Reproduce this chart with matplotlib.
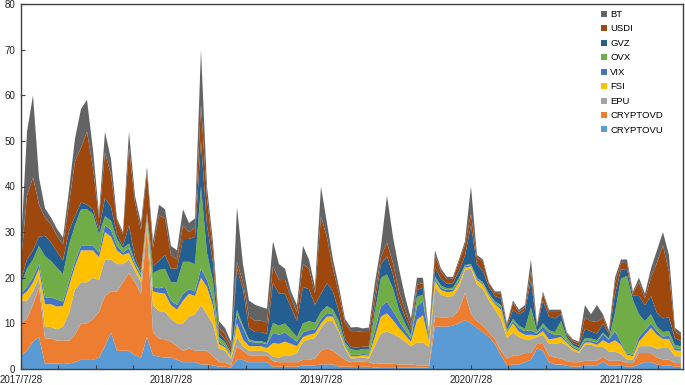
import numpy as np
import pandas as pd
import matplotlib
matplotlib.use('Agg')
import matplotlib.pyplot as plt
from matplotlib.patches import Patch

plt.rcParams['font.family'] = ['Liberation Sans', 'DejaVu Sans']

dates = pd.date_range('2017-07-28', '2021-12-21', periods=111)

CRYPTOVU = [3, 4, 6, 7, 1.2, 1.2, 1.2, 1.3, 1.2, 1.5,
            2, 2, 2, 2.5, 5, 8, 4, 4, 4, 3,
            2.5, 7, 3, 2.7, 2.5, 2.5, 2, 1.5, 1.5, 1.5,
            1, 1, 0.8, 0.5, 0.5, 0.3, 2, 2, 1.5, 1.5,
            1.5, 1.5, 0.5, 0.5, 0.5, 0.5, 0.5, 0.8, 0.8, 0.8,
            1, 1, 1, 0.5, 0.5, 0.5, 0.4, 0.5, 0.5, 0.3,
            0.4, 0.4, 0.4, 0.3, 0.3, 0.3, 0.3, 0.3, 0.3, 9.3,
            9.3, 9.3, 9.5, 10, 10.7, 10, 9, 8, 7, 5.5,
            3, 0.8, 1, 1, 1.5, 2, 4.5, 4, 1.5, 1,
            1, 0.7, 0.5, 0.5, 0.8, 0.8, 0.8, 1.6, 0.8, 0.8,
            0.8, 0.5, 0.5, 1, 1.5, 1.5, 1, 0.8, 0.8, 0.5, 0.5]
CRYPTOVD = [7, 7, 8, 11, 5.5, 5.5, 5, 5, 5, 6,
            8, 8, 9, 10, 11, 9, 13, 15, 17, 16,
            14, 24, 5, 4, 4, 3.5, 3, 2.5, 3, 2.5,
            3, 3, 2, 1, 1, 0.5, 3, 2, 1.5, 1.5,
            1.5, 1.5, 1.2, 1, 1, 1, 1, 1.2, 1.2, 1.5,
            3, 3.5, 3, 2.5, 1.5, 1, 1.2, 1.1, 1, 0.8,
            0.8, 0.8, 0.8, 0.7, 0.7, 0.7, 0.5, 0.5, 0.5, 2.2,
            2, 2, 2, 3, 6, 2, 1.5, 1.5, 1, 1,
            1, 1.5, 2, 2, 2, 1.5, 1, 1.5, 1.5, 1.5,
            1.3, 1, 1, 1, 1, 1, 1, 1.1, 1, 1,
            1, 0.8, 0.8, 2.5, 2, 2, 1.5, 1.3, 1.3, 0.8, 0.8]
EPU = [5, 4, 3, 2, 2.5, 2.5, 2.5, 3, 6, 10,
       9, 9, 9, 7, 8, 7, 6, 4, 3, 2.5,
       2.5, 1.5, 6, 6, 6, 5, 5, 6, 7, 8,
       10, 8, 7, 3, 2.5, 1.5, 2, 1, 1, 1,
       1, 0.8, 1, 1, 1.5, 1.5, 2, 4, 4.5, 4.5,
       5, 6, 6.5, 5, 2.5, 0.8, 0.8, 0.9, 0.8, 4,
       6.6, 7, 6.5, 6, 5, 4, 5, 5, 4, 6.5,
       5, 4.5, 4.5, 5, 5, 10, 8, 8, 7, 6.5,
       7, 4.5, 5, 4, 3, 3, 1.5, 2, 2.5, 3,
       3.5, 3.5, 2.5, 2, 3.5, 3.5, 3, 2.2, 2, 2,
       1.5, 0.8, 0.7, 1.5, 1.5, 1.5, 2, 2.5, 2.5, 1.5, 1.5]
FSI = [1, 2, 2, 2, 5, 5, 5, 4.5, 6, 5,
       7, 7, 6, 5, 6, 5, 3, 2, 1.5, 1,
       1, 0.5, 3, 4, 4, 3, 3, 5, 5, 4,
       6, 6, 4, 1, 0.7, 0.5, 3, 1.5, 1, 1,
       1, 0.8, 3, 3, 3, 2.5, 1.5, 1, 1, 1,
       1, 1, 1, 0.5, 0.5, 0.5, 0.4, 0.5, 0.6, 2,
       3.7, 4, 3, 2, 1.5, 1, 5, 6, 1.5, 1.3,
       1, 1, 1, 1, 0.5, 0.5, 1, 1, 1, 1.2,
       2, 1.2, 2, 1.2, 1, 1, 0.4, 0.8, 1, 1.2,
       1.2, 0.5, 0.5, 0.4, 0.5, 0.5, 0.5, 1.4, 1.8, 2.5,
       2, 1, 0.8, 1, 2.5, 4, 3, 2, 2, 1.3, 1.2]
VIX = [0.5, 1, 1, 1, 1.5, 1.5, 1.5, 1, 1, 1,
       1, 1, 1, 1, 1.5, 1.5, 1, 0.5, 1, 0.5,
       0.5, 0.3, 1, 1, 1.5, 1, 1, 1.5, 1, 1,
       2, 1.5, 1.5, 0.5, 0.3, 0.2, 2, 2.5, 1, 0.8,
       0.8, 0.8, 2.2, 2, 2, 1.5, 1, 1, 1, 0.8,
       1, 0.8, 0.5, 0.5, 0.3, 0.3, 0.3, 0.3, 0.3, 1.5,
       2.2, 2.5, 2, 1.5, 1, 0.7, 3, 3, 0.5, 0.5,
       0.5, 0.5, 0.4, 0.5, 0.3, 0.3, 0.3, 0.3, 0.3, 0.3,
       0.5, 0.3, 0.5, 0.8, 0.8, 1, 0.4, 1, 1.5, 0.8,
       0.5, 0.3, 0.3, 0.3, 0.5, 0.4, 0.5, 1.4, 0.8, 2,
       0.5, 0.3, 0.3, 1, 1, 1, 0.8, 0.5, 0.7, 0.5, 0.4]
OVX = [2, 4, 4, 4, 9, 8, 7, 6, 8, 8,
       8, 8, 7, 4, 2, 2, 1.5, 1, 1, 0.5,
       0.5, 0.5, 3, 4, 4, 4, 5, 7, 6, 6,
       18, 6, 4, 1, 0.8, 0.5, 1, 0.5, 0.5, 0.3,
       0.3, 0.3, 2.2, 2, 2, 1.5, 1, 2, 2, 1.5,
       1.5, 1.5, 1, 1.5, 0.5, 1.2, 1.0, 1.1, 1.2, 4,
       6.3, 6, 5, 2.5, 1.5, 0.8, 2, 1.5, 0.4, 0.5,
       0.5, 0.4, 0.4, 0.5, 0.3, 0.2, 0.2, 0.2, 0.2, 0.3,
       0.5, 0.3, 0.5, 0.5, 0.5, 5, 0.4, 0.7, 0.5, 0.6,
       3, 0.8, 0.4, 0.4, 0.5, 0.5, 0.5, 0.3, 0.3, 4,
       14, 17, 12, 5, 2, 2, 1, 1, 1, 0.6, 0.6]
GVZ = [1, 2, 2, 2, 4.5, 4, 3.5, 3, 3, 2,
       1.5, 1, 1, 1, 4, 3, 1, 0.5, 4, 1,
       0.5, 0.5, 1.5, 2, 3, 3, 3, 5, 5, 6,
       10, 6, 4, 1, 0.7, 0.5, 9, 8, 2.5, 2,
       2, 2, 8.8, 7, 6.5, 5, 3.5, 8, 7, 4,
       4, 5, 4, 2, 0.8, 0.5, 0.6, 0.5, 0.5, 2,
       3, 4, 3, 2, 1.5, 1, 1.5, 1.5, 0.3, 2,
       1.5, 1, 1, 1.5, 2, 8.5, 3, 2.5, 1.5, 1.2,
       1.5, 0.7, 2, 2.5, 4, 6, 1, 5, 3, 3,
       1.5, 0.6, 0.5, 0.5, 2, 1.5, 1.5, 1.9, 1, 4,
       2, 1.5, 1, 4, 3.5, 4, 3, 3, 3, 1.5, 1.2]
USDI = [4, 14, 16, 7, 4, 4, 3.5, 3.5, 6, 12,
        12, 16, 9, 2.5, 10, 7, 3, 2.5, 17, 12,
        9, 9, 4, 10, 8, 3, 2, 3, 1.5, 2,
        8, 6, 2.5, 1, 1.2, 1, 1.5, 1.5, 2.5, 2.5,
        2.5, 2.5, 3.6, 3, 3, 2, 2, 5, 4.5, 2.5,
        17, 10, 5, 4, 3.5, 3.5, 3.6, 3.2, 3.2, 2,
        1.6, 3, 2.5, 2, 1.5, 1, 1.2, 1, 0.3, 2.6,
        1.5, 1, 1, 2, 2.5, 2.5, 1.5, 2, 0.8, 0.7,
        1, 0.5, 1.5, 0.5, 0.7, 2, 0.3, 1.5, 1, 1.4,
        0.5, 0.3, 0.5, 0.6, 2.5, 2.3, 2.5, 1.4, 0.5, 2.5,
        1.5, 1.3, 0.5, 3, 1.5, 4, 11, 16, 10, 1.5, 1.2]
BT = [3.5, 14, 18, 6, 2, 1.5, 1.5, 1.5, 3, 5,
      8.5, 7, 4, 1, 4.5, 3.5, 0.5, 0.5, 3.5, 1.5,
      1.5, 1, 1.5, 2.3, 2, 2, 2, 3.5, 2, 2,
      12, 2.5, 2, 1.5, 1.3, 1, 12, 4, 3.5, 3.5,
      3, 3, 5.5, 3.5, 2.5, 1.5, 1.5, 4, 2, 1.4,
      6.5, 3.2, 2, 1.5, 0.9, 0.8, 0.9, 0.8, 1, 2.4,
      2.4, 10.3, 5.8, 5, 3, 1.5, 1.5, 1.2, 0.2, 1.1,
      0.7, 0.5, 0.4, 0.5, 0.7, 6, 0.5, 0.5, 0.2, 0.3,
      0.5, 0.2, 0.5, 0.5, 0.5, 2.5, 0.3, 0.5, 0.5, 0.5,
      0.5, 0.3, 0.3, 0.3, 2.7, 1.5, 3.7, 0.7, 0.3, 1.2,
      0.7, 0.8, 0.4, 1, 1, 2, 2.7, 2.9, 3.7, 0.8, 0.6]

series_names = ['CRYPTOVU', 'CRYPTOVD', 'EPU', 'FSI', 'VIX', 'OVX', 'GVZ', 'USDI', 'BT']
series = [CRYPTOVU, CRYPTOVD, EPU, FSI, VIX, OVX, GVZ, USDI, BT]
colors = ['#5B9BD5', '#ED7D31', '#A5A5A5', '#FFC000', '#4472C4',
          '#70AD47', '#255E91', '#9E480E', '#636363']

x_tick_labels = ['2017/7/28', '2018/7/28', '2019/7/28', '2020/7/28', '2021/7/28']

fig = plt.figure(figsize=(6.85, 3.85), dpi=100)
ax = fig.add_axes([21/685, 16/385, 662/685, 365/385])
ax.stackplot(dates, *series, colors=colors, linewidth=0, antialiased=True)

start = pd.Timestamp('2017-07-28')
ax.set_xlim(start, pd.Timestamp('2021-12-26'))
ax.set_ylim(0, 80)
ax.set_yticks(range(0, 81, 10))

ticks = [start + pd.Timedelta(days=91.3125 * i) for i in range(18)]
labels = [x_tick_labels[i // 4] if i % 4 == 0 else '' for i in range(18)]
ax.set_xticks(ticks)
ax.set_xticklabels(labels)

for s in ax.spines.values():
    s.set_color('#404040')
    s.set_linewidth(1.0)
ax.tick_params(axis='both', direction='in', length=3, width=0.8,
               color='#404040', labelsize=7, labelcolor='#222222')
ax.tick_params(axis='x', pad=4)
ax.tick_params(axis='y', pad=4)

handles = [Patch(facecolor=c, edgecolor='none') for c in colors[::-1]]
fig.legend(handles, series_names[::-1], loc='upper left',
           bbox_to_anchor=(601/685, 1 - 10/385), frameon=False,
           fontsize=6.8, handlelength=0.6, handleheight=0.6,
           handletextpad=0.4, labelspacing=0.58, borderpad=0,
           borderaxespad=0)

fig.savefig('out.png', dpi=100)
